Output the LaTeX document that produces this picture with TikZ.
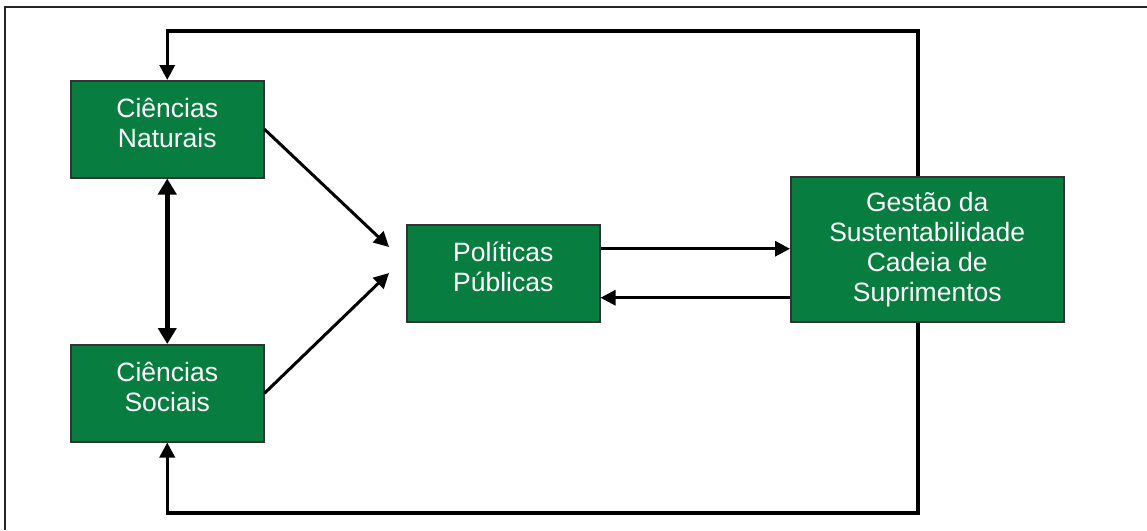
\documentclass[tikz,border=0pt]{standalone}
\usepackage{fontspec}
\setmainfont{Liberation Sans}
\usetikzlibrary{arrows.meta}
\definecolor{boxgreen}{HTML}{077D3F}
\definecolor{boxedge}{HTML}{333333}
\newcommand{\lowpad}{\rule[-13pt]{0pt}{13pt}}
\tikzset{
  gbox/.style={draw=boxedge, line width=1.5pt, fill=boxgreen, text=white,
    anchor=north west, inner sep=0pt, align=center,
    font=\fontsize{26.5}{30}\selectfont},
  smallbox/.style={gbox, minimum width=193pt, minimum height=97pt},
  conn/.style={line width=3pt, -{Triangle[length=15pt,width=15pt]}},
  dbl/.style={line width=4.5pt, {Triangle[length=16pt,width=18pt]}-{Triangle[length=16pt,width=18pt]}},
  loopline/.style={line width=3.5pt, line join=miter, -{Triangle[length=15pt,width=15pt]}},
}
\begin{document}
\begin{tikzpicture}[x=1pt,y=-1pt]
\useasboundingbox (0,0) rectangle (1147,530);
\fill[white] (0,0) rectangle (1147,530);
\draw[line width=2pt, black!85] (5,530) -- (5,7) -- (1147,7);

\node[smallbox] (nat) at (70,80) {Ciências\\Naturais\lowpad};
\node[smallbox] (soc) at (70,344) {Ciências\\Sociais\lowpad};
\node[smallbox] (pol) at (406,224) {Políticas\\Públicas\lowpad};
\node[gbox, minimum width=273pt, minimum height=145pt] (gest) at (790,176) {Gestão da\\Sustentabilidade\\Cadeia de\\Suprimentos};

\coordinate (tr) at (918,31);
\coordinate (br) at (918,513);
\coordinate (p1) at (389,247);
\coordinate (p2) at (389,273);

\draw[loopline] (tr |- gest.north) -- (tr) -- (tr -| nat.north) -- (nat.north);
\draw[loopline] (tr |- gest.south) -- (br) -- (br -| soc.south) -- (soc.south);

\draw[dbl] (nat.south) -- (soc.north);

\draw[conn] (nat.east) -- (p1);
\draw[conn] (soc.east) -- (p2);

\draw[conn] ([yshift=24.5pt]pol.east) -- ([yshift=24.5pt]pol.east -| gest.west);
\draw[conn] ([yshift=-24.5pt]pol.east -| gest.west) -- ([yshift=-24.5pt]pol.east);
\end{tikzpicture}
\end{document}
